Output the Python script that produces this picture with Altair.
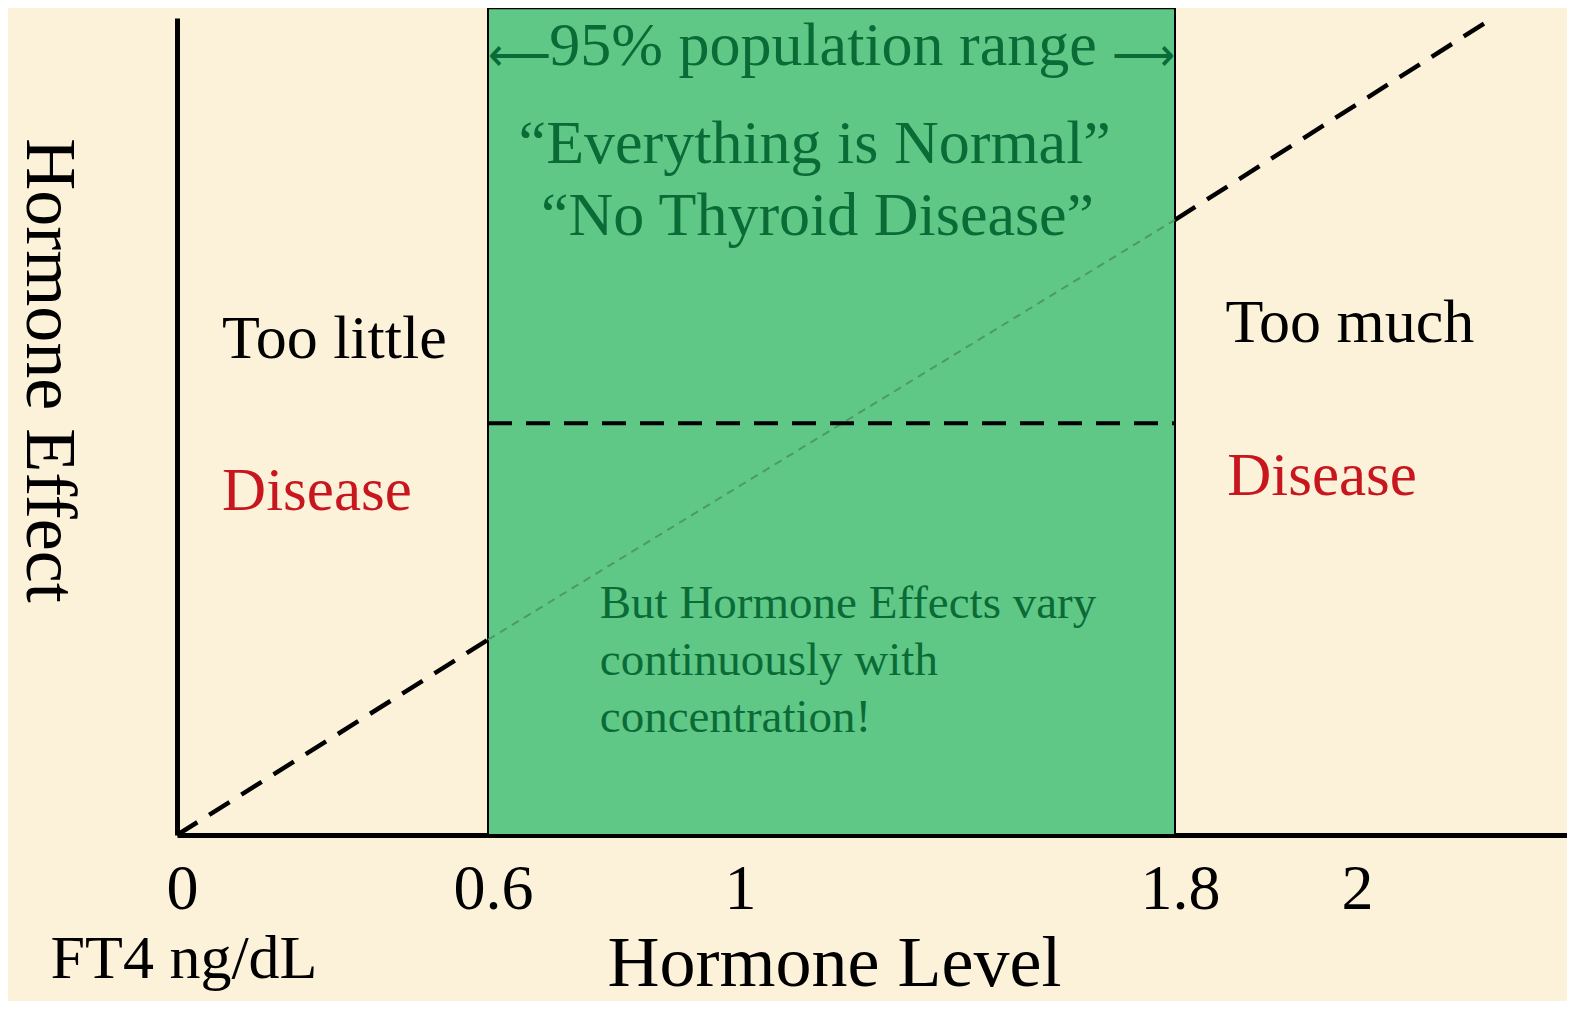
import altair as alt
import pandas as pd

FONT = "Liberation Serif"
BG = "#FCF2DA"
GREEN_FILL = "#5FC886"
GREEN_TEXT = "#0B6B37"
RED = "#C8161E"

# axis ticks (Hormone level, FT4 ng/dL)
tick_values = [0, 0.6, 1, 1.8, 2]
# the slide's axis is hand-drawn: piecewise scale stops
x_domain = [0, 0.6, 1, 1.8, 2, 2.4]
x_stops = [0, 311, 558, 998, 1175, 1390]

# 95% population range
range_low = [0.6]
range_high = [1.8]
box_top = [101.2]

# hormone effect line
line_x = [0, 0.6, 1.8, 2.25]
line_y = [0, 23.9, 75.3, 99.5]
threshold_y = [50.4]

# annotations (data coordinates)
black_labels = ["Too little", "Too much"]
black_x = [0.087, 1.857]
black_y = [58.4, 60.3]

red_labels = ["Disease", "Disease"]
red_x = [0.087, 1.859]
red_y = [39.8, 41.6]

green_center_labels = ["95% population range", "\u201cEverything is Normal\u201d", "\u201cNo Thyroid Disease\u201d"]
green_center_x = [1.16, 1.145, 1.15]
green_center_y = [94.3, 82.3, 73.4]

left_arrow = ["\u27f5"]
right_arrow = ["\u27f6"]
arrow_y = [95.2]

note_lines = ["But Hormone Effects vary", "continuously with", "concentration!"]
note_x = [0.781, 0.781, 0.781]
note_y = [26.6, 19.6, 12.6]

unit_label = ["FT4 ng/dL"]
unit_x = [0.0135]
unit_y = [-17.5]

xscale = alt.Scale(domain=x_domain, range=x_stops, nice=False, zero=False)
yscale = alt.Scale(domain=[0, 100], nice=False, zero=False)

xaxis = alt.Axis(values=tick_values, format="~g", ticks=False, grid=False,
                 domainColor="black", domainWidth=5,
                 labelFont=FONT, labelFontSize=64, labelColor="black",
                 labelBaseline="alphabetic", labelPadding=73, labelOffset=5,
                 labelFlush=False, labelOverlap=False,
                 titleFont=FONT, titleFontSize=72, titleFontWeight="normal",
                 titleColor="black", titleX=657, titleY=150,
                 titleBaseline="alphabetic", titleAlign="center")
yaxis = alt.Axis(ticks=False, labels=False, grid=False,
                 domainColor="black", domainWidth=5,
                 titleFont=FONT, titleFontSize=72, titleFontWeight="normal",
                 titleColor="black", titleAngle=90, titleX=-151, titleY=352,
                 titleBaseline="alphabetic", titleAlign="center")

X = alt.X("x:Q", scale=xscale, axis=xaxis, title="Hormone Level")
Y = alt.Y("y:Q", scale=yscale, axis=yaxis, title="Hormone Effect")

box_df = pd.DataFrame({"x": range_low, "x2": range_high, "y": [0], "y2": box_top})
box = alt.Chart(box_df).mark_rect(fill=GREEN_FILL, stroke="black", strokeWidth=2).encode(
    x=X, x2="x2:Q", y=Y, y2="y2:Q")

left_df = pd.DataFrame({"x": line_x[0:2], "y": line_y[0:2]})
mid_df = pd.DataFrame({"x": line_x[1:3], "y": line_y[1:3]})
right_df = pd.DataFrame({"x": line_x[2:4], "y": line_y[2:4]})

left_line = alt.Chart(left_df).mark_line(color="black", strokeWidth=4.5, strokeDash=[24, 14]).encode(x=X, y=Y)
mid_line = alt.Chart(mid_df).mark_line(color="#4E9A66", strokeWidth=2, strokeDash=[8, 6]).encode(x=X, y=Y)
right_line = alt.Chart(right_df).mark_line(color="black", strokeWidth=4.5, strokeDash=[24, 14]).encode(x=X, y=Y)

thr_df = pd.DataFrame({"x": range_low, "x2": range_high, "y": threshold_y})
thr = alt.Chart(thr_df).mark_rule(color="black", strokeWidth=4, strokeDash=[24, 14]).encode(
    x=X, x2="x2:Q", y=Y)

def text_layer(labels, xs, ys, color, size, align, baseline="alphabetic"):
    df = pd.DataFrame({"label": labels, "x": xs, "y": ys})
    return alt.Chart(df).mark_text(font=FONT, fontSize=size, color=color, align=align,
                                   baseline=baseline).encode(x=X, y=Y, text="label:N")

t_black = text_layer(black_labels, black_x, black_y, "black", 62, "left")
t_red = text_layer(red_labels, red_x, red_y, RED, 61, "left")
t_green = text_layer(green_center_labels, green_center_x, green_center_y, GREEN_TEXT, 62, "center")
t_larrow = text_layer(left_arrow, range_low, arrow_y, GREEN_TEXT, 44, "left", "middle")
t_rarrow = text_layer(right_arrow, range_high, arrow_y, GREEN_TEXT, 44, "right", "middle")
t_note = text_layer(note_lines, note_x, note_y, GREEN_TEXT, 47, "left")
t_unit = text_layer(unit_label, unit_x, unit_y, "black", 62, "center")

chart = alt.layer(box, mid_line, thr, left_line, right_line,
                  t_black, t_red, t_green, t_larrow, t_rarrow, t_note, t_unit).properties(
    width=1390, height=817,
    autosize=alt.AutoSizeParams(type="none"),
    padding={"left": 169, "top": 10, "right": 0, "bottom": 166},
    background=BG,
).configure_view(strokeWidth=0)

chart.save("out.html", embed_options={"renderer": "svg", "actions": False})
